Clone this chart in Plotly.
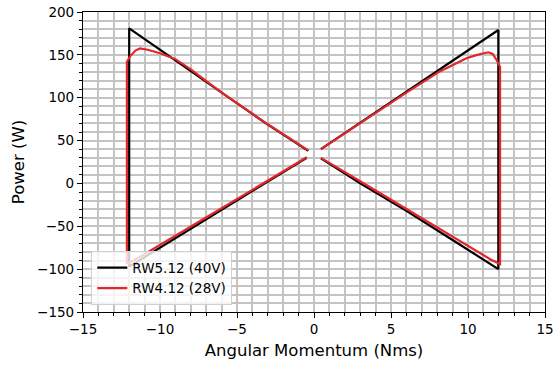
import plotly.graph_objects as go

# RW5.12 (40V): momentum (Nms) vs. power (W), branches split at zero speed
rw5_h = [-0.47, -3.0, -6.0, -9.0, -12.0, -12.0, -12.0, -9.0, -6.0, -3.0, -0.37,
         None,
         0.45, 3.0, 6.0, 9.0, 11.97, 11.97, 11.97, 9.0, 6.0, 3.0, 0.45]
rw5_p = [30.0, 2.0, -31.0, -64.0, -97.0, 40.0, 181.0, 143.5, 106.0, 68.5, 38.0,
         None,
         40.0, 71.0, 107.0, 143.0, 179.0, 40.0, -100.0, -66.0, -32.0, 0.0, 29.3]

# RW4.12 (28V): same manoeuvre, power-limited near full momentum
rw4_h = [-0.47, -3.0, -6.0, -9.0, -11.9, -12.15, -12.15, -12.15, -11.95, -11.6,
         -11.3, -10.8, -10.0, -9.0, -8.0, -6.0, -3.0, -0.37,
         None,
         0.45, 3.0, 6.0, 8.2, 9.0, 9.9, 10.6, 11.0, 11.32, 11.6, 11.86, 12.08,
         12.08, 12.08, 11.5, 9.0, 6.0, 3.0, 0.45]
rw4_p = [30.5, 3.0, -29.0, -61.0, -92.0, -93.0, 40.0, 142.0, 148.0, 155.0,
         157.5, 156.0, 151.8, 145.0, 133.0, 106.0, 69.0, 38.5,
         None,
         40.0, 70.5, 106.0, 131.0, 138.5, 146.0, 150.0, 152.0, 153.0, 151.0,
         144.0, 136.0, 40.0, -94.0, -89.0, -62.0, -29.0, 2.5, 29.8]

fig = go.Figure()
fig.add_trace(go.Scatter(x=rw5_h, y=rw5_p, mode="lines", name="RW5.12 (40V)",
                         line=dict(color="black", width=2.2),
                         connectgaps=False))
fig.add_trace(go.Scatter(x=rw4_h, y=rw4_p, mode="lines", name="RW4.12 (28V)",
                         line=dict(color="#e2272b", width=2.2),
                         connectgaps=False))

grid_color = "#c4c4c4"
axis_common = dict(
    showline=True, linecolor="black", linewidth=1.2, mirror=True,
    ticks="outside", ticklen=5, tickwidth=1.2, tickcolor="black",
    showgrid=True, gridcolor=grid_color, gridwidth=1.5,
    zeroline=False, automargin=False,
    tickfont=dict(family="DejaVu Sans", size=13.5, color="black"),
)

fig.update_xaxes(
    range=[-15, 15], dtick=5, tick0=0,
    minor=dict(dtick=1, ticks="outside", ticklen=3, tickwidth=1,
               tickcolor="black", showgrid=True, gridcolor=grid_color,
               gridwidth=1.5),
    title=dict(text="Angular Momentum (Nms)",
               font=dict(family="DejaVu Sans", size=16.5, color="black"),
               standoff=8),
    **axis_common,
)
fig.update_yaxes(
    range=[-150, 200], dtick=50, tick0=0,
    minor=dict(dtick=10, ticks="outside", ticklen=3, tickwidth=1,
               tickcolor="black", showgrid=True, gridcolor=grid_color,
               gridwidth=1.5),
    title=dict(text="Power (W)",
               font=dict(family="DejaVu Sans", size=16.5, color="black"),
               standoff=8),
    **axis_common,
)

fig.update_layout(
    width=555, height=365,
    margin=dict(l=83, r=10, t=12, b=53),
    paper_bgcolor="white", plot_bgcolor="white",
    font=dict(family="DejaVu Sans", color="black"),
    legend=dict(
        x=0.018, y=0.022, xanchor="left", yanchor="bottom",
        bgcolor="rgba(255,255,255,0.8)", bordercolor="#d0d0d0", borderwidth=1,
        font=dict(family="DejaVu Sans", size=13.5, color="black"),
        itemwidth=30, tracegroupgap=0,
    ),
)

fig.write_html("out.html")
